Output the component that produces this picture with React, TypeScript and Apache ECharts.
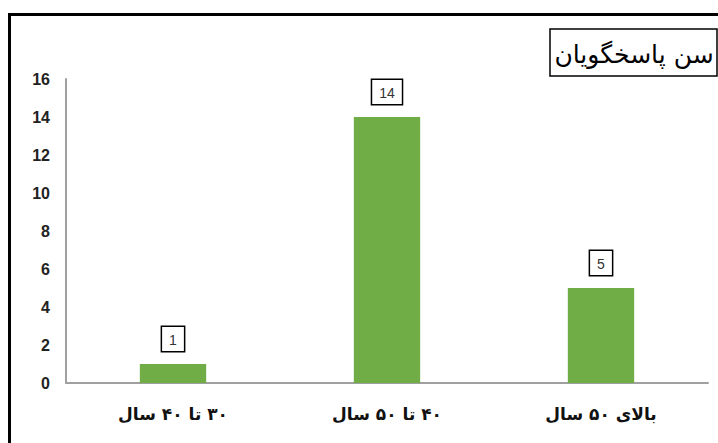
import React, { useEffect, useRef } from "react";
import * as echarts from "echarts";

const categories = ["۳۰ تا ۴۰ سال", "۴۰ تا ۵۰ سال", "بالای ۵۰ سال"];
const values = [1, 14, 5];
const title = "سن پاسخگویان";

const rtl = (s: string) => "\u202B" + s + "\u202C";

export default function App() {
  const ref = useRef<HTMLDivElement>(null);
  useEffect(() => {
    const chart = echarts.init(ref.current!, null, { renderer: "svg" });
    chart.setOption({
      animation: false,
      backgroundColor: "#ffffff",
      grid: { left: 66, right: 10, top: 79, bottom: 60, containLabel: false },
      xAxis: {
        type: "category",
        data: categories,
        axisLine: { show: true, lineStyle: { color: "#a0a0a0", width: 2 } },
        axisTick: { show: false },
        axisLabel: {
          margin: 22,
          fontFamily: "DejaVu Sans",
          fontWeight: "bold",
          fontSize: 17,
          color: "#111",
          formatter: (v: string) => rtl(v),
        },
      },
      yAxis: {
        type: "value",
        min: 0,
        max: 16,
        interval: 2,
        axisLine: { show: true, lineStyle: { color: "#a0a0a0", width: 2 } },
        axisTick: { show: false },
        splitLine: { show: false },
        axisLabel: {
          margin: 16,
          fontFamily: "Liberation Sans",
          fontWeight: "bold",
          fontSize: 16,
          color: "#222",
        },
      },
      series: [
        {
          type: "bar",
          data: values,
          barWidth: "31%",
          itemStyle: { color: "#70ad47" },
          label: {
            show: true,
            position: "top",
            distance: 13,
            fontFamily: "Liberation Sans Narrow, Liberation Sans",
            fontSize: 14,
            color: "#333",
            borderColor: "#000",
            borderWidth: 1.5,
            padding: [6, 7, 4, 7],
            backgroundColor: "#fff",
          },
        },
      ],
      graphic: [
        {
          type: "rect",
          shape: { x: 9.5, y: 14.5, width: 740, height: 460 },
          style: { fill: "none", stroke: "#000", lineWidth: 3 },
          silent: true,
        },
        {
          type: "rect",
          shape: { x: 550, y: 29, width: 167, height: 47 },
          style: { fill: "#fff", stroke: "#000", lineWidth: 1.5 },
        },
        {
          type: "text",
          x: 634,
          y: 54,
          style: {
            text: rtl(title),
            fontFamily: "DejaVu Sans",
            fontSize: 25,
            fill: "#000",
            align: "center",
            verticalAlign: "middle",
          },
        },
      ],
    });
    return () => chart.dispose();
  }, []);
  return (
    <div
      ref={ref}
      style={{ position: "fixed", left: 0, top: 0, width: 718, height: 443 }}
    />
  );
}
